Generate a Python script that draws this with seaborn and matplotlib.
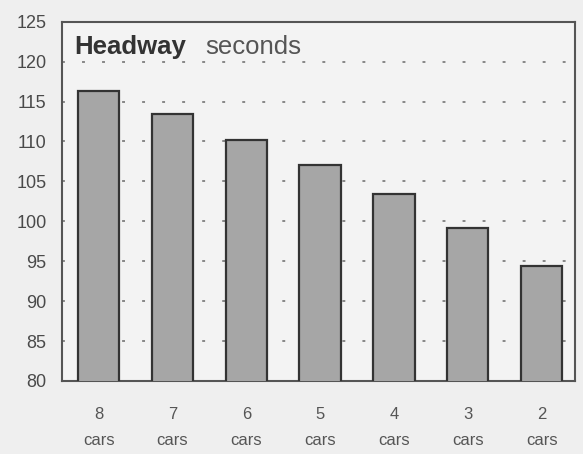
import matplotlib
matplotlib.use("Agg")
import matplotlib.pyplot as plt
import seaborn as sns
import pandas as pd

# data
cars = ["8", "7", "6", "5", "4", "3", "2"]
headway = [116.3, 113.4, 110.2, 107.0, 103.4, 99.2, 94.4]
y_ticks = [80, 85, 90, 95, 100, 105, 110, 115, 120, 125]

df = pd.DataFrame({"cars": cars, "headway": headway})

sns.set_style("white")
plt.rcParams["font.family"] = ["Liberation Sans", "DejaVu Sans"]

fig = plt.figure(figsize=(5.83, 4.54), dpi=100, facecolor="#efefef")
ax = fig.add_axes([0.106, 0.161, 0.88, 0.791])
ax.set_facecolor("#f3f3f3")

sns.barplot(data=df, x="cars", y="headway", color="#a6a6a6", width=0.56,
            edgecolor="#333333", linewidth=1.6, saturation=1, ax=ax, zorder=3)

ax.set_ylim(80, 125)
ax.set_xlim(-0.5, 6.45)
ax.set_yticks(y_ticks)
ax.set_yticklabels([str(t) for t in y_ticks], fontsize=13, color="#4a4a4a")
ax.set_xticks(range(len(cars)))
ax.set_xticklabels([c + "\ncars" for c in cars], fontsize=12, color="#555555",
                   linespacing=1.9)
ax.tick_params(axis="y", length=0, pad=11)
ax.tick_params(axis="x", length=0, pad=19)
ax.set_xlabel("")
ax.set_ylabel("")

# dotted horizontal grid
ax.yaxis.grid(True, linestyle=(0, (1.5, 8.8)), color="#888888", linewidth=1.4, zorder=0)
ax.set_axisbelow(True)

for s in ax.spines.values():
    s.set_color("#555555")
    s.set_linewidth(1.5)

ax.text(0.025, 0.962, "Headway", transform=ax.transAxes, fontsize=18.5,
        fontweight="bold", color="#333333", va="top", ha="left")
ax.text(0.279, 0.962, "seconds", transform=ax.transAxes, fontsize=18.5,
        color="#555555", va="top", ha="left")

fig.savefig("out.png", dpi=100, facecolor=fig.get_facecolor())
